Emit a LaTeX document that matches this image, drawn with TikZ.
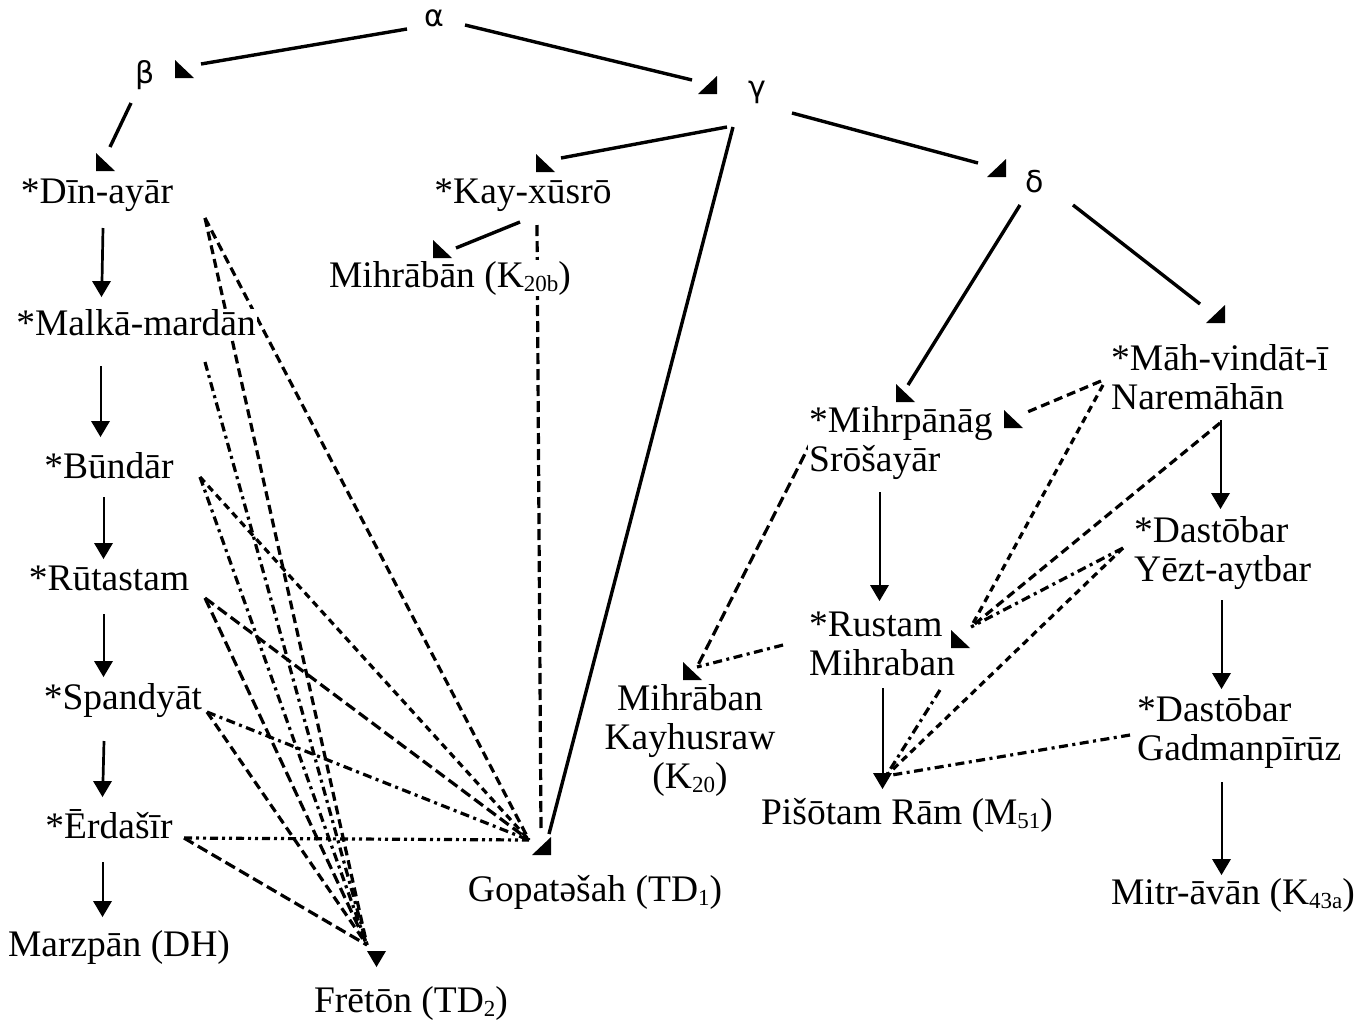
\documentclass[tikz,border=0pt]{standalone}
\usepackage{fontspec}
\setmainfont{Liberation Serif}
\newfontfamily\grk{DejaVu Sans}
\newcommand\sbs[1]{\raisebox{-0.12em}{\fontsize{23}{23}\selectfont #1}}
\begin{document}
\begin{tikzpicture}[x=1pt,y=-1pt,
  lbl/.style={font=\fontsize{37.5}{39}\selectfont, inner sep=1pt, fill=white},
  glbl/.style={font=\grk\fontsize{30}{32}\selectfont, inner sep=1pt},
  solidline/.style={line width=3.4pt},
  vline/.style={line width=2.7pt},
  dshl/.style={line width=3.2pt, dash pattern=on 11pt off 5pt},
  dsh/.style={line width=3.2pt, dash pattern=on 9pt off 5pt},
  dshs/.style={line width=3.2pt, dash pattern=on 7pt off 5pt},
  dshd/.style={line width=3.2pt, dash pattern=on 9pt off 4.5pt on 3pt off 4.5pt},
  dshdd/.style={line width=3.2pt, dash pattern=on 8pt off 4pt on 3pt off 4pt on 3pt off 4pt},
  tsw/.pic={\fill (0,0) -- (0,18) -- (19,18) -- cycle;},
  tse/.pic={\fill (19,0) -- (19,18) -- (0,18) -- cycle;},
  tdn/.pic={\fill (0,0) -- (19,0) -- (9.5,16) -- cycle;},
]
\useasboundingbox (0,0) rectangle (1370,1023);

% ---------- ports (named coordinates) ----------
\coordinate (al-w) at (407,29);   \coordinate (be-t) at (201,64);
\coordinate (al-e) at (465,25);   \coordinate (ga-t) at (692,80);
\coordinate (be-s) at (131,103);  \coordinate (din-t) at (110,147);
\coordinate (ga-sw) at (727,127); \coordinate (kay-t) at (561,158);
\coordinate (ga-s) at (733,127);  \coordinate (gop-t1) at (549,834);
\coordinate (ga-e) at (792,113);  \coordinate (de-t) at (978,163);
\coordinate (de-sw) at (1020,205);\coordinate (mih-t1) at (908,385);
\coordinate (de-se) at (1073,205);\coordinate (mah-t) at (1200,304);
\coordinate (kay-sw) at (520,222);\coordinate (k20b-t) at (456,248);
\coordinate (kay-s) at (537,225); \coordinate (gop-t2) at (541,832);

\coordinate (din-o) at (205,218);
\coordinate (gop-c) at (529,840);
\coordinate (fre-c) at (367,945);
\coordinate (mal-o) at (205,362);
\coordinate (bun-o) at (200,477);
\coordinate (rut-o) at (205,598);
\coordinate (spa-o) at (207,712);
\coordinate (erd-o) at (184,838);

\coordinate (mih-o) at (812,440);  \coordinate (mkk-t) at (697,667);
\coordinate (rus-w) at (783,645);
\coordinate (mah-w) at (1101,381); \coordinate (mih-t2) at (1025,413);
\coordinate (mah-w2) at (1103,385);\coordinate (rus-t) at (971,627);
\coordinate (mah-s) at (1220,423);
\coordinate (dy-w) at (1123,548);
\coordinate (rus-se) at (940,690); \coordinate (pis-t) at (886,776);
\coordinate (dg-w) at (1130,735);

% vertical ports
\coordinate (din-s) at (103,228); \coordinate (mal-t) at (102,282);
\coordinate (mal-s) at (101,366); \coordinate (bun-t) at (101,421);
\coordinate (bun-s) at (104,497); \coordinate (rut-t) at (104,543);
\coordinate (rut-s) at (104,614); \coordinate (spa-t) at (104,661);
\coordinate (spa-s) at (104,741); \coordinate (erd-t) at (103,781);
\coordinate (erd-s) at (103,862); \coordinate (mar-t) at (103,901);
\coordinate (mih-s) at (880,492); \coordinate (rus-tv) at (880,585);
\coordinate (rus-s) at (883,688); \coordinate (pis-tv) at (883,773);
\coordinate (mah-sv) at (1221,420);\coordinate (dy-t) at (1221,493);
\coordinate (dy-s) at (1222,600); \coordinate (dg-t) at (1222,673);
\coordinate (dg-s) at (1222,782); \coordinate (mit-t) at (1222,859);

% ---------- solid tree lines ----------
\draw[solidline] (al-w) -- (be-t);
\draw[solidline] (al-e) -- (ga-t);
\draw[solidline] (be-s) -- (din-t);
\draw[solidline] (ga-sw) -- (kay-t);
\draw[solidline] (ga-s) -- (gop-t1);
\draw[solidline] (ga-e) -- (de-t);
\draw[solidline] (de-sw) -- (mih-t1);
\draw[solidline] (de-se) -- (mah-t);
\draw[solidline] (kay-sw) -- (k20b-t);

% vertical arrows
\draw[vline] (din-s) -- (mal-t);
\draw[vline] (mal-s) -- (bun-t);
\draw[vline] (bun-s) -- (rut-t);
\draw[vline] (rut-s) -- (spa-t);
\draw[vline] (spa-s) -- (erd-t);
\draw[vline] (erd-s) -- (mar-t);
\draw[vline] (mih-s) -- (rus-tv);
\draw[vline] (rus-s) -- (pis-tv);
\draw[vline] (mah-sv) -- (dy-t);
\draw[vline] (dy-s) -- (dg-t);
\draw[vline] (dg-s) -- (mit-t);

% ---------- contamination lines, left ----------
\draw[dshl] (kay-s) -- (gop-t2);
\draw[dsh] (din-o) -- (gop-c);
\draw[dsh] (din-o) -- (fre-c);
\draw[dshd] (mal-o) -- (fre-c);
\draw[dshs] (bun-o) -- (gop-c);
\draw[dshd] (bun-o) -- (fre-c);
\draw[dshl] (rut-o) -- (gop-c);
\draw[dshl] (rut-o) -- (fre-c);
\draw[dshd] (spa-o) -- (gop-c);
\draw[dsh] (spa-o) -- (fre-c);
\draw[dshdd] (erd-o) -- (gop-c);
\draw[dshl] (erd-o) -- (fre-c);

% ---------- contamination lines, right ----------
\draw[dshl] (mih-o) -- (mkk-t);
\draw[dshd] (rus-w) -- (mkk-t);
\draw[dsh] (mah-w) -- (mih-t2);
\draw[dshs] (mah-w2) -- (rus-t);
\draw[dsh] (mah-s) -- (rus-t);
\draw[dshd] (dy-w) -- (rus-t);
\draw[dshs] (dy-w) -- (pis-t);
\draw[dshd] (rus-se) -- (pis-t);
\draw[dshd] (dg-w) -- (pis-t);

% ---------- labels ----------
\node[glbl] (al) at (434,18) {α};
\node[glbl] (be) at (145,75) {β};
\node[glbl] (ga) at (757,92) {γ};
\node[glbl] (de) at (1035,182) {δ};
\node[lbl] (din) at (97,195) {*Dīn-ayār};
\node[lbl] (kay) at (523,195) {*Kay-xūsrō};
\node[lbl] (k20b) at (450,278) {Mihrābān (K\sbs{20b})};
\node[lbl] (mal) at (136,323) {*Malkā-mardān};
\node[lbl] (bun) at (109,466) {*Būndār};
\node[lbl] (rut) at (109,578) {*Rūtastam};
\node[lbl] (spa) at (123,701) {*Spandyāt};
\node[lbl] (erd) at (109,824) {*Ērdašīr};
\node[lbl] (mar) at (119,947) {Marzpān (DH)};
\node[lbl] (fre) at (411,1003) {Frētōn (TD\sbs{2})};
\node[lbl] (gop) at (595,892) {Gopatəšah (TD\sbs{1})};
\node[lbl,align=center] (mkk) at (690,740) {Mihrāban\\Kayhusraw\\(K\sbs{20})};
\node[lbl,align=left,anchor=west] (mih) at (808,443) {*Mihrpānāg\\Srōšayār};
\node[lbl,align=left,anchor=west] (mah) at (1110,377) {*Māh-vindāt-ī\\Naremāhān};
\node[lbl,align=left,anchor=west] (rus) at (808,644) {*Rustam\\Mihraban};
\node[lbl,align=left,anchor=west] (dy) at (1133,553) {*Dastōbar\\Yēzt-aytbar};
\node[lbl,align=left,anchor=west] (dg) at (1136,732) {*Dastōbar\\Gadmanpīrūz};
\node[lbl] (pis) at (907,815) {Pišōtam Rām (M\sbs{51})};
\node[lbl] (mit) at (1233,895) {Mitr-āvān (K\sbs{43a})};

% ---------- arrowheads (on top) ----------
\pic at (175,60) {tsw};
\pic at (96,153) {tsw};
\pic at (698,76) {tse};
\pic at (536,154) {tsw};
\pic at (987,159) {tse};
\pic at (433,240) {tsw};
\pic at (1206,305) {tse};
\pic at (896,384) {tsw};
\pic at (1004,410) {tsw};
\pic at (951,630) {tsw};
\pic at (683,662) {tsw};
\pic at (532,837) {tse};
\pic at (367,951) {tdn};
\pic at (92,281) {tdn};
\pic at (91,421) {tdn};
\pic at (94,543) {tdn};
\pic at (94,661) {tdn};
\pic at (93,781) {tdn};
\pic at (93,901) {tdn};
\pic at (870,585) {tdn};
\pic at (873,773) {tdn};
\pic at (1211,493) {tdn};
\pic at (1212,673) {tdn};
\pic at (1212,859) {tdn};
\end{tikzpicture}
\end{document}
